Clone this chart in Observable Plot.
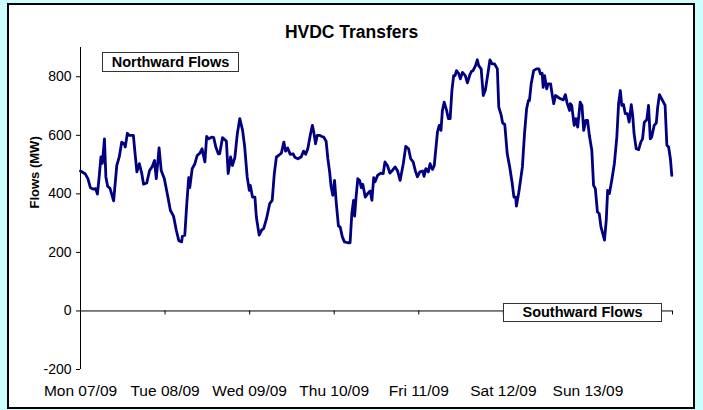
<!DOCTYPE html>
<html><head><meta charset="utf-8">
<script src="https://cdn.jsdelivr.net/npm/d3@7"></script>
<script src="https://cdn.jsdelivr.net/npm/@observablehq/plot@0.6"></script>
<style>
html,body{margin:0;padding:0;background:#ccffff;}
#wrap{position:relative;width:703px;height:410px;overflow:hidden;font-family:"Liberation Sans",Arial,sans-serif;}
#panel{position:absolute;left:7px;top:3px;width:684px;height:402px;background:#fff;border:2px solid #000;}
#chart{position:absolute;left:0;top:0;}
#title{position:absolute;left:0;width:703px;top:22px;line-height:20px;text-align:center;font-weight:bold;font-size:17.5px;color:#000;}
.box{position:absolute;background:#fff;border:1px solid #333;font-weight:bold;font-size:14.5px;text-align:center;color:#000;}
#north{left:102px;top:52px;width:135px;height:18px;line-height:18px;}
#south{left:503px;top:303px;width:157px;height:17px;line-height:17px;}
</style>
</head><body>
<div id="wrap">
  <div id="panel"></div>
  <div id="chart"></div>
  <div id="title">HVDC Transfers</div>
  <div class="box" id="north">Northward Flows</div>
  <div class="box" id="south">Southward Flows</div>
</div>
<script>
const dayLabels = ["Mon 07/09","Tue 08/09","Wed 09/09","Thu 10/09","Fri 11/09","Sat 12/09","Sun 13/09"];
const dayTicks = [0,24,48,72,96,120,144,168];
const yTicks = [-200,0,200,400,600,800];
const yDomain = [-200,900];
const title = "HVDC Transfers";
const yLabel = "Flows (MW)";

// hours since Mon 07/09 00:00
const hours = [0,1.3,2.1,2.8,3.7,4.3,4.8,5.3,5.8,6.2,6.8,7.2,7.7,8.4,9.4,10.3,11.0,11.7,12.4,12.7,13.3,13.8,15.0,15.5,16.0,16.7,17.4,17.9,18.8,19.6,20.4,21.0,21.5,22.3,22.9,23.8,24.8,25.5,26.4,27.2,27.9,28.7,28.9,29.6,30.1,30.7,31.0,31.7,32.4,33.1,33.9,34.5,35.3,35.8,36.4,37.2,37.8,38.4,39.1,39.5,40.3,41.0,41.4,41.9,42.6,43.1,43.8,44.5,45.2,46.0,46.6,47.3,47.9,48.2,48.8,49.5,49.9,50.7,51.4,52.0,52.8,53.7,54.4,55.0,55.6,56.2,57.0,57.7,58.2,58.8,59.5,60.3,60.9,61.7,62.6,63.3,63.9,64.5,65.2,65.8,66.2,66.7,67.2,67.8,68.5,69.0,69.7,70.2,70.7,71.1,71.6,72.1,72.6,73.2,73.7,74.3,74.9,75.9,76.5,77.0,77.5,77.8,78.2,78.7,79.2,79.7,80.1,80.8,81.5,82.2,82.7,83.2,83.6,84.3,85.2,85.9,86.4,87.1,87.8,88.5,89.3,90.0,90.7,91.6,92.3,93.1,93.7,94.4,95.0,95.6,96.3,97.1,97.5,98.0,98.7,99.2,99.9,100.4,100.8,101.3,101.8,102.3,102.7,103.2,103.9,104.4,104.9,105.4,105.9,106.3,106.7,107.3,107.8,108.4,109.2,109.8,110.5,111.0,111.4,112.1,112.6,113.0,113.7,114.3,114.9,115.6,116.2,116.8,117.5,118.3,118.7,119.4,119.8,120.4,121.1,121.8,122.5,123.0,123.5,123.7,124.4,125.4,126.0,126.6,127.1,127.4,127.9,128.6,129.4,130.1,130.5,131.0,131.3,131.7,132.3,132.7,133.4,133.9,134.3,134.8,135.5,136.2,137.0,137.6,138.1,138.8,139.0,139.4,140.1,140.6,141.1,141.8,142.3,142.8,143.4,143.9,144.4,145.1,145.6,146.1,146.7,147.2,147.7,148.2,148.7,149.2,149.6,150.1,150.8,151.5,152.2,152.7,153.2,153.6,154.1,154.6,155.2,155.7,156.3,156.7,157.1,157.7,158.4,159.0,159.5,160.0,160.7,161.2,161.7,162.1,162.8,163.4,163.8,164.3,164.9,165.9,166.4,166.9,167.4,167.8];
const flows = [478,469,452,421,416,418,399,458,526,504,588,458,426,418,376,497,526,577,571,560,607,600,600,537,475,503,469,433,437,480,494,514,452,557,480,452,389,344,324,275,240,236,255,259,355,455,421,486,501,531,539,554,509,596,588,594,592,560,537,537,592,585,580,469,526,497,524,605,657,617,560,458,412,429,389,389,321,259,276,282,316,367,378,469,526,531,539,577,546,557,535,537,524,520,526,546,535,554,600,634,611,571,600,600,596,594,580,520,475,426,395,446,367,290,287,253,236,233,233,333,378,324,389,452,446,421,433,389,401,410,378,455,441,463,471,469,509,497,471,480,492,478,446,503,562,554,520,509,480,458,475,478,460,486,475,503,483,497,549,611,634,617,685,713,685,657,657,753,804,804,821,812,793,815,804,779,807,819,821,838,858,838,827,736,755,810,858,844,844,827,696,668,642,637,537,492,437,389,389,358,406,492,605,691,719,719,776,821,827,827,810,812,764,804,759,776,776,736,708,736,730,725,721,739,710,685,708,702,634,657,628,713,702,617,651,651,600,549,429,418,338,333,287,265,242,310,412,401,449,503,594,708,753,702,705,674,674,645,705,668,605,554,551,577,588,645,653,702,588,594,634,642,696,739,725,702,566,560,520,463];

const data = hours.map((h, i) => ({hour: h, flow: flows[i]}));

const chart = Plot.plot({
  width: 703,
  height: 410,
  marginLeft: 80,
  marginRight: 31,
  marginTop: 47,
  marginBottom: 41,
  style: {background: "transparent", fontFamily: "'Liberation Sans', Arial, sans-serif", color: "#000"},
  x: {domain: [0, 168]},
  y: {domain: yDomain},
  marks: [
    Plot.ruleX([0], {stroke: "#000", strokeWidth: 1}),
    Plot.ruleY([0], {x1: 0, x2: 168, stroke: "#000", strokeWidth: 1}),
    Plot.ruleX(dayTicks, {x: d => d, y1: 0, y2: 0, insetBottom: -4, stroke: "#000", strokeWidth: 1}),
    Plot.axisY({ticks: yTicks, tickSize: 4, tickPadding: 5, fontSize: 14, label: null, tickFormat: d => d}),
    Plot.axisX({ticks: dayTicks.slice(0, 7), tickSize: 0, tickPadding: 15, fontSize: 15.5, label: null, tickFormat: d => dayLabels[d / 24]}),
    Plot.text([yLabel], {frameAnchor: "left", dx: -46, rotate: -90, text: d => d, fontSize: 13, fontWeight: "bold", fill: "#000"}),
    Plot.line(data, {x: "hour", y: "flow", stroke: "#000080", strokeWidth: 2.8, strokeLinejoin: "round"})
  ]
});
document.getElementById("chart").appendChild(chart);
</script>
</body></html>
